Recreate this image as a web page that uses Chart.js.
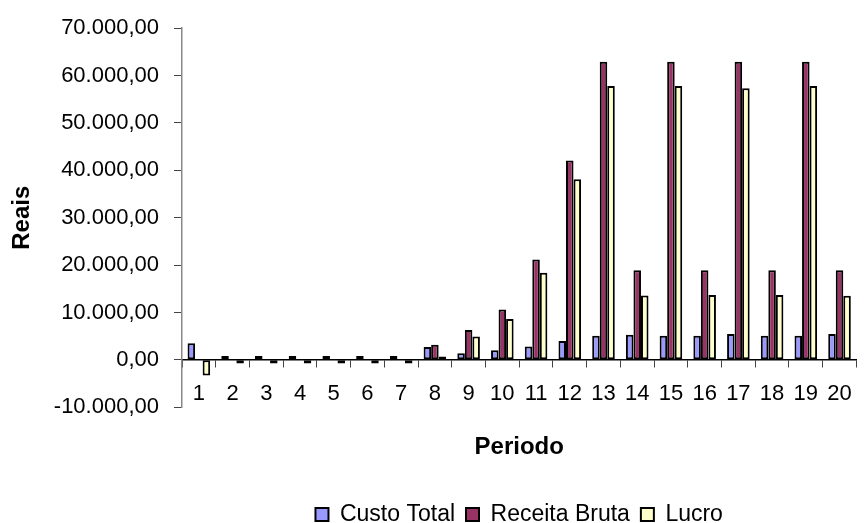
<!DOCTYPE html>
<html>
<head>
<meta charset="utf-8">
<script src="https://cdn.jsdelivr.net/npm/chart.js@4/dist/chart.umd.min.js"></script>
<style>
  html, body { margin: 0; padding: 0; background: #ffffff; }
  #wrap { width: 866px; height: 523px; position: relative; }
</style>
</head>
<body>
<div id="wrap"><canvas id="chart"></canvas></div>
<script>
// Periods 1..20
const periodos = ['1','2','3','4','5','6','7','8','9','10','11','12','13','14','15','16','17','18','19','20'];

// Values in reais per period
const custoTotal   = [3500, 800, 800, 800, 800, 800, 800, 2700, 1400, 2000, 2800, 4000, 5100, 5300, 5100, 5100, 5450, 5100, 5100, 5450];
const receitaBruta = [0, 0, 0, 0, 0, 0, 0, 3200, 6300, 10600, 21200, 42100, 62900, 18900, 62900, 18900, 62900, 18900, 62900, 18900];
const lucro        = [-3300, -750, -750, -750, -750, -750, -750, 700, 4900, 8600, 18400, 38100, 57800, 13600, 57800, 13700, 57300, 13700, 57800, 13500];

// Value axis range and step
const yMin = -10000;
const yMax = 70000;
const yStep = 10000;

const FONT = '"Liberation Sans", Arial, sans-serif';

// Brazilian number format: 70.000,00
function formatReais(v) {
  const neg = v < 0;
  const abs = Math.abs(v);
  const intPart = Math.floor(abs).toString().replace(/\B(?=(\d{3})+(?!\d))/g, '.');
  const dec = Math.round((abs - Math.floor(abs)) * 100).toString().padStart(2, '0');
  return (neg ? '-' : '') + intPart + ',' + dec;
}

const ctx = document.getElementById('chart');
new Chart(ctx, {
  type: 'bar',
  data: {
    labels: periodos,
    datasets: [
      { label: 'Custo Total',   data: custoTotal,   backgroundColor: '#9999FF', borderColor: '#000000' },
      { label: 'Receita Bruta', data: receitaBruta, backgroundColor: '#993366', borderColor: '#000000' },
      { label: 'Lucro',         data: lucro,        backgroundColor: '#FFFFCC', borderColor: '#000000' }
    ]
  },
  options: {
    responsive: true,
    maintainAspectRatio: false,
    animation: false,
    devicePixelRatio: 1,
    layout: { padding: { left: 0, top: 25, right: -4, bottom: -13 } },
    datasets: {
      bar: {
        borderWidth: 2,
        borderSkipped: false,
        categoryPercentage: 0.67,
        barPercentage: 1.0
      }
    },
    scales: {
      x: {
        type: 'category',
        position: { y: 0 },
        offset: true,
        grid: {
          offset: true,
          drawOnChartArea: false,
          drawTicks: true,
          tickLength: 7,
          tickWidth: 1,
          color: '#444444'
        },
        border: { display: true, color: '#000000', width: 1.5 },
        ticks: {
          color: '#000000',
          font: { family: FONT, size: 22 },
          padding: 14,
          maxRotation: 0,
          minRotation: 0,
          autoSkip: false
        }
      },
      y: {
        position: 'left',
        min: yMin,
        max: yMax,
        afterFit: (scale) => { scale.width = 182; },
        grid: {
          drawOnChartArea: false,
          drawTicks: true,
          tickLength: 8,
          tickWidth: 1,
          color: '#444444'
        },
        border: { display: true, color: '#888888', width: 1.5 },
        ticks: {
          stepSize: yStep,
          color: '#000000',
          font: { family: FONT, size: 22 },
          padding: 15,
          callback: (v) => formatReais(v)
        },
        title: {
          display: true,
          text: 'Reais',
          color: '#000000',
          font: { family: FONT, size: 24, weight: 'bold' },
          padding: { top: 8, bottom: 0 }
        }
      }
    },
    plugins: {
      title: {
        display: true,
        text: 'Periodo',
        position: 'bottom',
        fullSize: false,
        weight: 500,
        color: '#000000',
        font: { family: FONT, size: 24, weight: 'bold' },
        padding: { top: 26, bottom: 30 }
      },
      legend: {
        display: true,
        position: 'bottom',
        fullSize: false,
        labels: {
          color: '#000000',
          font: { family: FONT, size: 23 },
          boxWidth: 13,
          boxHeight: 13,
          padding: 11
        }
      },
      tooltip: { enabled: false }
    }
  }
});
</script>
</body>
</html>
